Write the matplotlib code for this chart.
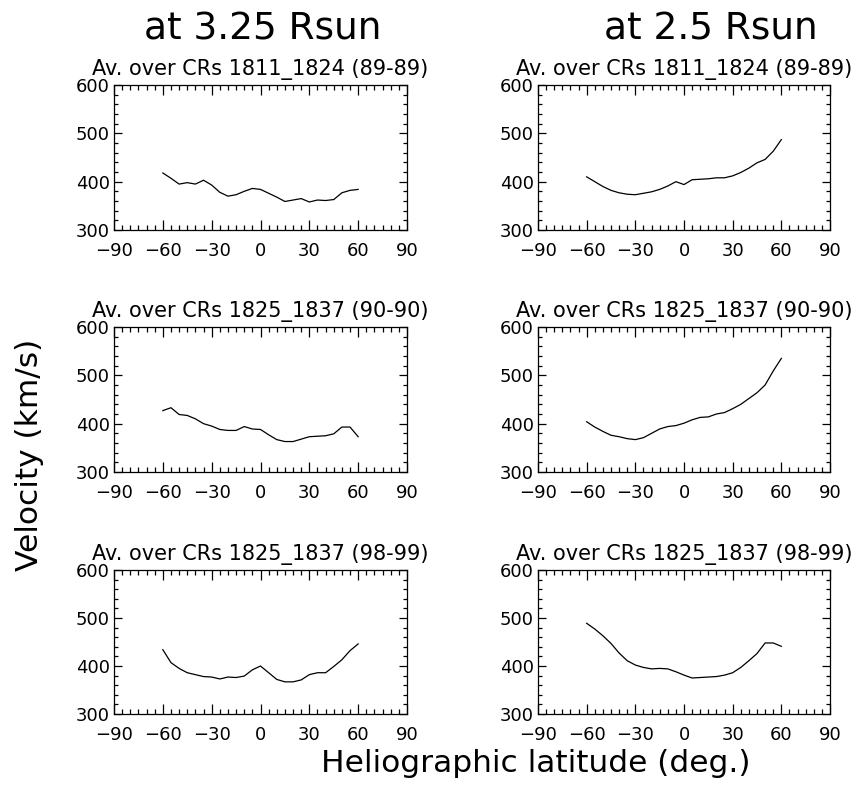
import matplotlib
matplotlib.use("Agg")
import matplotlib.pyplot as plt
from matplotlib.ticker import MultipleLocator

plt.rcParams['font.family'] = ['DejaVu Sans']

# heliographic latitude grid (deg)
lat = [-60, -55, -50, -45, -40, -35, -30, -25, -20, -15, -10, -5, 0,
       5, 10, 15, 20, 25, 30, 35, 40, 45, 50, 55, 60]

# velocities (km/s) at 3.25 Rsun
v325_1811 = [418, 407, 395, 398, 395, 403, 393, 378, 370, 373, 380, 386, 384,
             376, 368, 359, 362, 365, 358, 362, 361, 363, 377, 382, 384]
v325_1825a = [427, 433, 419, 417, 410, 400, 395, 388, 386, 386, 394, 389, 388,
              377, 367, 363, 363, 368, 373, 374, 375, 379, 393, 393, 373]
v325_1825b = [434, 407, 395, 386, 382, 378, 377, 373, 377, 376, 379, 392, 400,
              386, 372, 367, 367, 371, 382, 386, 386, 399, 413, 432, 446]

# velocities (km/s) at 2.5 Rsun
v25_1811 = [410, 400, 390, 382, 377, 374, 373, 376, 379, 384, 391, 400, 394,
            404, 405, 406, 408, 408, 412, 419, 428, 439, 446, 463, 487]
v25_1825a = [404, 393, 384, 376, 373, 369, 367, 371, 380, 389, 394, 396, 401,
             408, 413, 414, 420, 423, 431, 440, 452, 464, 480, 509, 535]
v25_1825b = [489, 477, 463, 447, 427, 411, 402, 397, 394, 395, 394, 388, 381,
             375, 376, 377, 378, 381, 386, 397, 411, 426, 448, 448, 441]

col_titles = ['at 3.25 Rsun', 'at 2.5 Rsun']
panel_titles = ['Av. over CRs 1811_1824 (89-89)',
                'Av. over CRs 1825_1837 (90-90)',
                'Av. over CRs 1825_1837 (98-99)']
series = [[v325_1811, v25_1811],
          [v325_1825a, v25_1825a],
          [v325_1825b, v25_1825b]]

W, H = 864, 790
fig = plt.figure(figsize=(W / 100, H / 100), dpi=100)

cols = [(114, 407), (538, 830)]
rows = [(85, 230), (327, 472), (570, 714)]


def add_ax(l, r, t, b):
    return fig.add_axes([l / W, 1 - b / H, (r - l) / W, (b - t) / H])


for i, (t, b) in enumerate(rows):
    for j, (l, r) in enumerate(cols):
        ax = add_ax(l, r, t, b)
        ax.plot(lat, series[i][j], color='black', lw=0.9)
        ax.set_xlim(-90, 90)
        ax.set_ylim(300, 600)
        ax.xaxis.set_major_locator(MultipleLocator(30))
        ax.xaxis.set_minor_locator(MultipleLocator(5))
        ax.yaxis.set_major_locator(MultipleLocator(100))
        ax.yaxis.set_minor_locator(MultipleLocator(20))
        ax.tick_params(which='both', direction='in', top=True, right=True,
                       width=0.9, labelsize=13)
        ax.tick_params(axis='x', which='major', length=7, pad=9)
        ax.tick_params(axis='x', which='minor', length=3.5)
        ax.tick_params(axis='y', which='major', length=6, pad=3)
        ax.tick_params(axis='y', which='minor', length=3)
        for s in ax.spines.values():
            s.set_linewidth(0.9)
        fig.text((l + r) / 2 / W, 1 - (t - 10) / H, panel_titles[i],
                 ha='center', va='baseline', fontsize=15)

fig.text(263 / W, 1 - 40 / H, col_titles[0], ha='center', va='baseline',
         fontsize=27)
fig.text(711 / W, 1 - 40 / H, col_titles[1], ha='center', va='baseline',
         fontsize=27)

fig.text(536 / W, 1 - 772 / H, 'Heliographic latitude (deg.)',
         ha='center', va='baseline', fontsize=22.5)
fig.text(30 / W, 1 - 455 / H, 'Velocity (km/s)', rotation=90,
         ha='center', va='center', fontsize=22.5)

fig.savefig('out.png', dpi=100)
